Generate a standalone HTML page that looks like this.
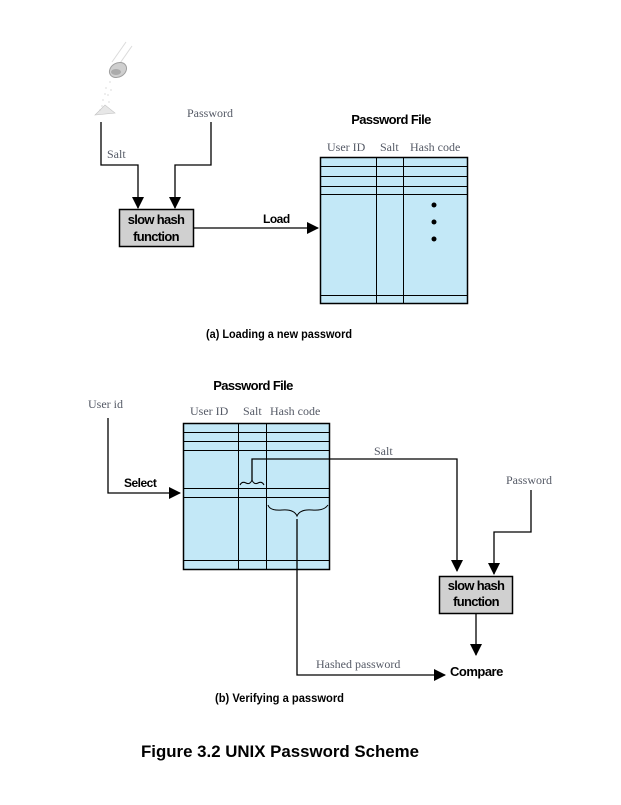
<!DOCTYPE html>
<html><head><meta charset="utf-8"><style>
html,body{margin:0;padding:0;background:#fff;}
svg{display:block;}
.s{font-family:"Liberation Serif",serif;font-size:12px;fill:#555a66;}
.b{font-family:"Liberation Sans",sans-serif;font-weight:bold;fill:#000;}
</style></head><body>
<svg width="621" height="805" viewBox="0 0 621 805" xmlns="http://www.w3.org/2000/svg">
<defs>
<marker id="ar" markerWidth="12" markerHeight="12" refX="11" refY="6" orient="auto" markerUnits="userSpaceOnUse">
<path d="M0,0 L12,6 L0,12 Z" fill="#000"/></marker>
</defs>
<!-- salt shaker -->
<g opacity="0.7">
<line x1="112" y1="62" x2="126" y2="42" stroke="#ccc" stroke-width="1"/>
<line x1="118" y1="66" x2="132" y2="46" stroke="#ccc" stroke-width="1"/>
<ellipse cx="118" cy="70" rx="9" ry="7" fill="#bbb" stroke="#777" transform="rotate(-30 118 70)"/>
<ellipse cx="116" cy="72" rx="5" ry="3" fill="#888"/>
<path d="M95,115 L105,105 L115,113 Z" fill="#ddd" stroke="#aaa" stroke-width="0.6"/>
<g fill="#aaa">
<circle cx="110" cy="82" r="0.6"/><circle cx="106" cy="88" r="0.6"/><circle cx="108" cy="95" r="0.6"/>
<circle cx="103" cy="100" r="0.6"/><circle cx="111" cy="90" r="0.6"/><circle cx="105" cy="94" r="0.6"/>
<circle cx="102" cy="106" r="0.6"/><circle cx="109" cy="102" r="0.6"/><circle cx="100" cy="110" r="0.6"/>
</g></g>

<!-- part (a) -->
<text class="s" x="187" y="117">Password</text>
<text class="s" x="107" y="158">Salt</text>
<polyline points="101,122 101,165 138,165 138,208" fill="none" stroke="#000" stroke-width="1.3" marker-end="url(#ar)"/>
<polyline points="211,122 211,165 175,165 175,208" fill="none" stroke="#000" stroke-width="1.3" marker-end="url(#ar)"/>
<rect x="119.5" y="209.5" width="74" height="37" fill="#d0d0d0" stroke="#000" stroke-width="1.5"/>
<text class="b" x="156" y="224" font-size="13" text-anchor="middle" letter-spacing="-0.7">slow hash</text>
<text class="b" x="156" y="241" font-size="13" text-anchor="middle" letter-spacing="-0.7">function</text>
<line x1="194" y1="228" x2="318" y2="228" stroke="#000" stroke-width="1.3" marker-end="url(#ar)"/>
<text class="b" x="263" y="223" font-size="12" letter-spacing="-0.5">Load</text>
<text class="b" x="391" y="124" font-size="13" text-anchor="middle" letter-spacing="-0.6">Password File</text>
<text class="s" x="327" y="151">User ID</text>
<text class="s" x="380" y="151">Salt</text>
<text class="s" x="410" y="151">Hash code</text>
<rect x="320.5" y="157.5" width="147" height="146" fill="#c3e8f7" stroke="#000" stroke-width="1.5"/>
<g stroke="#000" stroke-width="1">
<line x1="320" y1="166.5" x2="468" y2="166.5"/><line x1="320" y1="176.5" x2="468" y2="176.5"/>
<line x1="320" y1="186.5" x2="468" y2="186.5"/><line x1="320" y1="194.5" x2="468" y2="194.5"/>
<line x1="320" y1="295.5" x2="468" y2="295.5"/>
<line x1="376.5" y1="157" x2="376.5" y2="304"/><line x1="403.5" y1="157" x2="403.5" y2="304"/>
</g>
<circle cx="434" cy="205" r="2.5"/><circle cx="434" cy="222" r="2.5"/><circle cx="434" cy="239" r="2.5"/>
<text class="b" x="206" y="338" font-size="12" textLength="146" lengthAdjust="spacingAndGlyphs">(a) Loading a new password</text>

<!-- part (b) -->
<text class="b" x="253" y="390" font-size="13" text-anchor="middle" letter-spacing="-0.6">Password File</text>
<text class="s" x="88" y="408">User id</text>
<text class="s" x="190" y="415">User ID</text>
<text class="s" x="243" y="415">Salt</text>
<text class="s" x="270" y="415">Hash code</text>
<rect x="183.5" y="423.5" width="146" height="146" fill="#c3e8f7" stroke="#000" stroke-width="1.5"/>
<g stroke="#000" stroke-width="1">
<line x1="183" y1="432.5" x2="330" y2="432.5"/><line x1="183" y1="441.5" x2="330" y2="441.5"/>
<line x1="183" y1="450.5" x2="330" y2="450.5"/><line x1="183" y1="488.5" x2="330" y2="488.5"/>
<line x1="183" y1="497.5" x2="330" y2="497.5"/><line x1="183" y1="560.5" x2="330" y2="560.5"/>
<line x1="238.5" y1="423" x2="238.5" y2="570"/><line x1="266.5" y1="423" x2="266.5" y2="570"/>
</g>
<polyline points="108,418 108,493 180,493" fill="none" stroke="#000" stroke-width="1.3" marker-end="url(#ar)"/>
<text class="b" x="124" y="487" font-size="12" letter-spacing="-0.5">Select</text>
<path d="M240,485 q2,-4 6,-2 q4,2 6,-3 q2,5 6,3 q4,-2 6,2" fill="none" stroke="#000" stroke-width="1"/>
<polyline points="252,480 252,459 457,459 457,571" fill="none" stroke="#000" stroke-width="1.3" marker-end="url(#ar)"/>
<text class="s" x="374" y="455">Salt</text>
<path d="M268,505 q2,6 14,5 q12,-1 15,6 q3,-7 15,-6 q12,1 16,-5" fill="none" stroke="#000" stroke-width="1"/>
<polyline points="297,519 297,675 445,675" fill="none" stroke="#000" stroke-width="1.3" marker-end="url(#ar)"/>
<text class="s" x="316" y="668">Hashed password</text>
<text class="s" x="506" y="484">Password</text>
<polyline points="531,490 531,532 494,532 494,574" fill="none" stroke="#000" stroke-width="1.3" marker-end="url(#ar)"/>
<rect x="439.5" y="576.5" width="73" height="37" fill="#d0d0d0" stroke="#000" stroke-width="1.5"/>
<text class="b" x="476" y="590" font-size="13" text-anchor="middle" letter-spacing="-0.7">slow hash</text>
<text class="b" x="476" y="606" font-size="13" text-anchor="middle" letter-spacing="-0.7">function</text>
<line x1="476" y1="613" x2="476" y2="655" stroke="#000" stroke-width="1.3" marker-end="url(#ar)"/>
<text class="b" x="450" y="676" font-size="13" letter-spacing="-0.5">Compare</text>
<text class="b" x="215" y="702" font-size="12" textLength="129" lengthAdjust="spacingAndGlyphs">(b) Verifying a password</text>

<text class="b" x="141" y="757" font-size="17" textLength="278" lengthAdjust="spacingAndGlyphs">Figure 3.2  UNIX Password Scheme</text>
</svg>
</body></html>
